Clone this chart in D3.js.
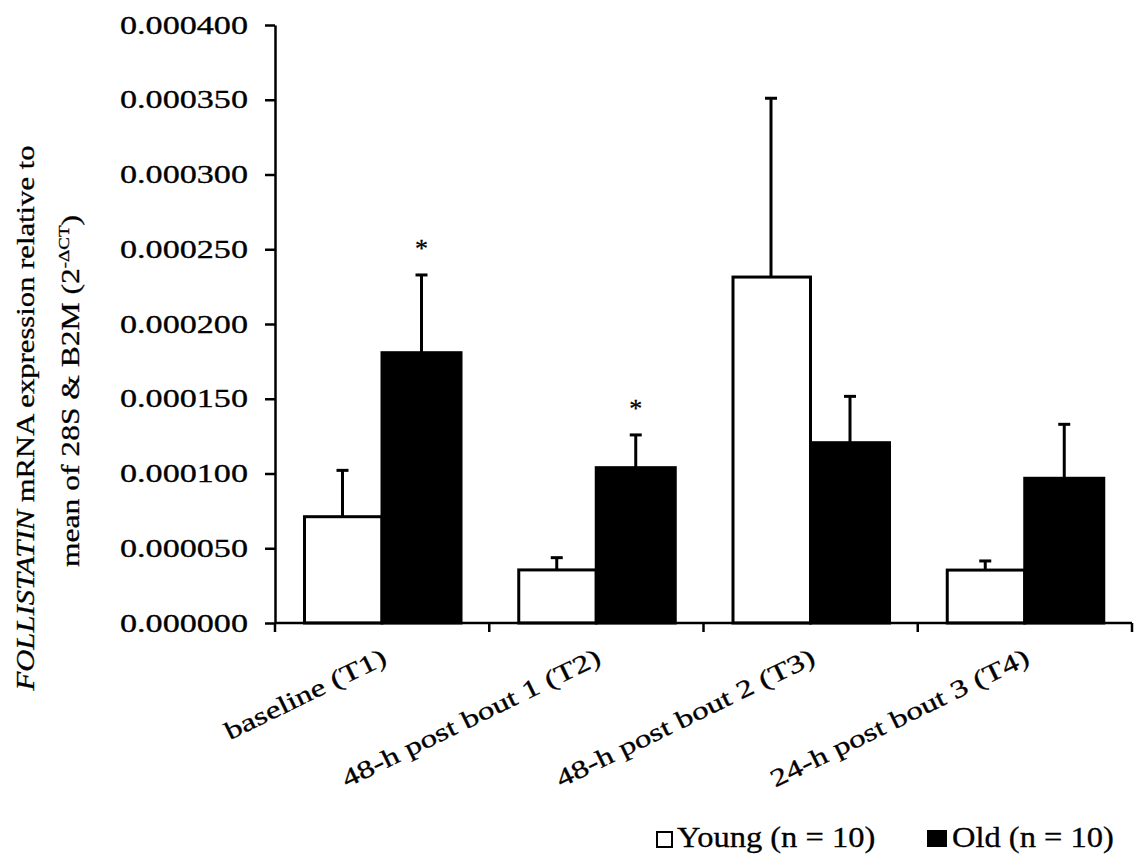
<!DOCTYPE html>
<html><head><meta charset="utf-8">
<script src="https://cdn.jsdelivr.net/npm/d3@7"></script>
<style>
body{margin:0;background:#fff}
svg{display:block}
text{font-family:"Liberation Serif","Times New Roman",serif;fill:#000;stroke:#000;stroke-width:0.3px}
</style></head>
<body><svg width="1136" height="867"></svg>
<script>
const categories = ["baseline (T1)", "48-h post bout 1 (T2)", "48-h post bout 2 (T3)", "24-h post bout 3 (T4)"];
const seriesNames = ["Young", "Old"];
const legendLabels = ["Young (n = 10)", "Old (n = 10)"];
const youngMean = [0.0000711, 0.0000355, 0.0002314, 0.0000354];
const youngSE   = [0.0000310, 0.0000082, 0.0001196, 0.0000061];
const oldMean   = [0.0001808, 0.0001039, 0.0001206, 0.0000968];
const oldSE     = [0.0000520, 0.0000219, 0.0000310, 0.0000361];
const oldSignificant = [true, true, false, false];
const yTickValues = [0, 0.00005, 0.0001, 0.00015, 0.0002, 0.00025, 0.0003, 0.00035, 0.0004];

const svg = d3.select("svg");
const x0 = d3.scaleBand().domain(categories).range([275, 1132]).padding(0);
const x1 = d3.scaleBand().domain(seriesNames).range([28, 186]);
const y = d3.scaleLinear().domain([0, 0.0004]).range([623, 25]);

function stretch(sel, factor) {
  sel.each(function() {
    const n = this.getComputedTextLength();
    d3.select(this).attr("textLength", n * factor).attr("lengthAdjust", "spacingAndGlyphs");
  });
}

const rows = categories.map((c, i) => ({
  c, i,
  vals: [
    {s: "Young", m: youngMean[i], e: youngSE[i]},
    {s: "Old", m: oldMean[i], e: oldSE[i]}
  ]
}));

// bars
const g = svg.append("g");
const grp = g.selectAll("g.cat").data(rows).join("g").attr("class", "cat")
  .attr("transform", d => `translate(${x0(d.c)},0)`);

grp.selectAll("rect").data(d => d.vals).join("rect")
  .attr("x", d => x1(d.s) + (d.s === "Young" ? 1.5 : 0))
  .attr("width", d => x1.bandwidth() - (d.s === "Young" ? 1.5 : 0))
  .attr("y", d => y(d.m))
  .attr("height", d => y(0) - y(d.m))
  .attr("fill", d => d.s === "Young" ? "#fff" : "#000")
  .attr("stroke", "#000")
  .attr("stroke-width", 3);

// error bars
grp.selectAll("line.err").data(d => d.vals).join("line").attr("class", "err")
  .attr("x1", d => x1(d.s) + x1.bandwidth() / 2)
  .attr("x2", d => x1(d.s) + x1.bandwidth() / 2)
  .attr("y1", d => y(d.m))
  .attr("y2", d => y(d.m + d.e))
  .attr("stroke", "#000").attr("stroke-width", 3);
grp.selectAll("line.cap").data(d => d.vals).join("line").attr("class", "cap")
  .attr("x1", d => x1(d.s) + x1.bandwidth() / 2 - 6)
  .attr("x2", d => x1(d.s) + x1.bandwidth() / 2 + 6)
  .attr("y1", d => y(d.m + d.e))
  .attr("y2", d => y(d.m + d.e))
  .attr("stroke", "#000").attr("stroke-width", 3);

// significance stars
grp.filter(d => oldSignificant[d.i]).append("text")
  .attr("x", x1("Old") + x1.bandwidth() / 2)
  .attr("y", d => y(d.vals[1].m + d.vals[1].e) - 18)
  .attr("text-anchor", "middle")
  .attr("font-size", 26)
  .text("*");

// y axis
const yAxis = svg.append("g").attr("transform", "translate(275,0)")
  .call(d3.axisLeft(y).tickValues(yTickValues).tickFormat(d3.format(".6f"))
    .tickSize(10).tickSizeOuter(0).tickPadding(17));
yAxis.selectAll("path,line").attr("stroke", "#000").attr("stroke-width", 2.5);
yAxis.selectAll("text").attr("font-size", 25)
  .attr("font-family", '"Liberation Serif","Times New Roman",serif').attr("fill", "#000")
  .attr("textLength", 128).attr("lengthAdjust", "spacingAndGlyphs");

// x axis
const xa = svg.append("g");
xa.append("line").attr("x1", 275).attr("x2", x0.range()[1]).attr("y1", y(0)).attr("y2", y(0))
  .attr("stroke", "#000").attr("stroke-width", 2.5);
const bounds = categories.map(c => x0(c)).concat([x0.range()[1]]);
xa.selectAll("line.tk").data(bounds).join("line").attr("class", "tk")
  .attr("x1", d => d).attr("x2", d => d).attr("y1", y(0)).attr("y2", y(0) + 9)
  .attr("stroke", "#000").attr("stroke-width", 2.5);
xa.selectAll("text").data(categories).join("text")
  .attr("transform", c => `translate(${x0(c) + x0.bandwidth() / 2 + 6},663) rotate(-26)`)
  .attr("text-anchor", "end")
  .attr("font-size", 25)
  .text(c => c)
  .call(stretch, 1.33);

// y title
const t1 = svg.append("text").attr("transform", "translate(34,418) rotate(-90)")
  .attr("text-anchor", "middle").attr("font-size", 25);
t1.append("tspan").attr("font-style", "italic").text("FOLLISTATIN");
t1.append("tspan").text(" mRNA expression relative to");
t1.attr("textLength", 545).attr("lengthAdjust", "spacingAndGlyphs");
const t2 = svg.append("text").attr("transform", "translate(79,391) rotate(-90)")
  .attr("text-anchor", "middle").attr("font-size", 25);
t2.append("tspan").text("mean of 28S & B2M (2");
t2.append("tspan").attr("font-size", 15).attr("dy", -10).text("-ΔCT");
t2.append("tspan").attr("dy", 10).text(")");
t2.attr("textLength", 352).attr("lengthAdjust", "spacingAndGlyphs");

// legend
const leg = svg.append("g");
leg.append("rect").attr("x", 657).attr("y", 832).attr("width", 15).attr("height", 15)
  .attr("fill", "#fff").attr("stroke", "#000").attr("stroke-width", 2);
leg.append("text").attr("x", 677).attr("y", 847).attr("font-size", 29).text(legendLabels[0])
  .call(stretch, 1.12);
leg.append("rect").attr("x", 927).attr("y", 830).attr("width", 20).attr("height", 17).attr("fill", "#000");
leg.append("text").attr("x", 952).attr("y", 847).attr("font-size", 29).text(legendLabels[1])
  .call(stretch, 1.12);
</script></body></html>
